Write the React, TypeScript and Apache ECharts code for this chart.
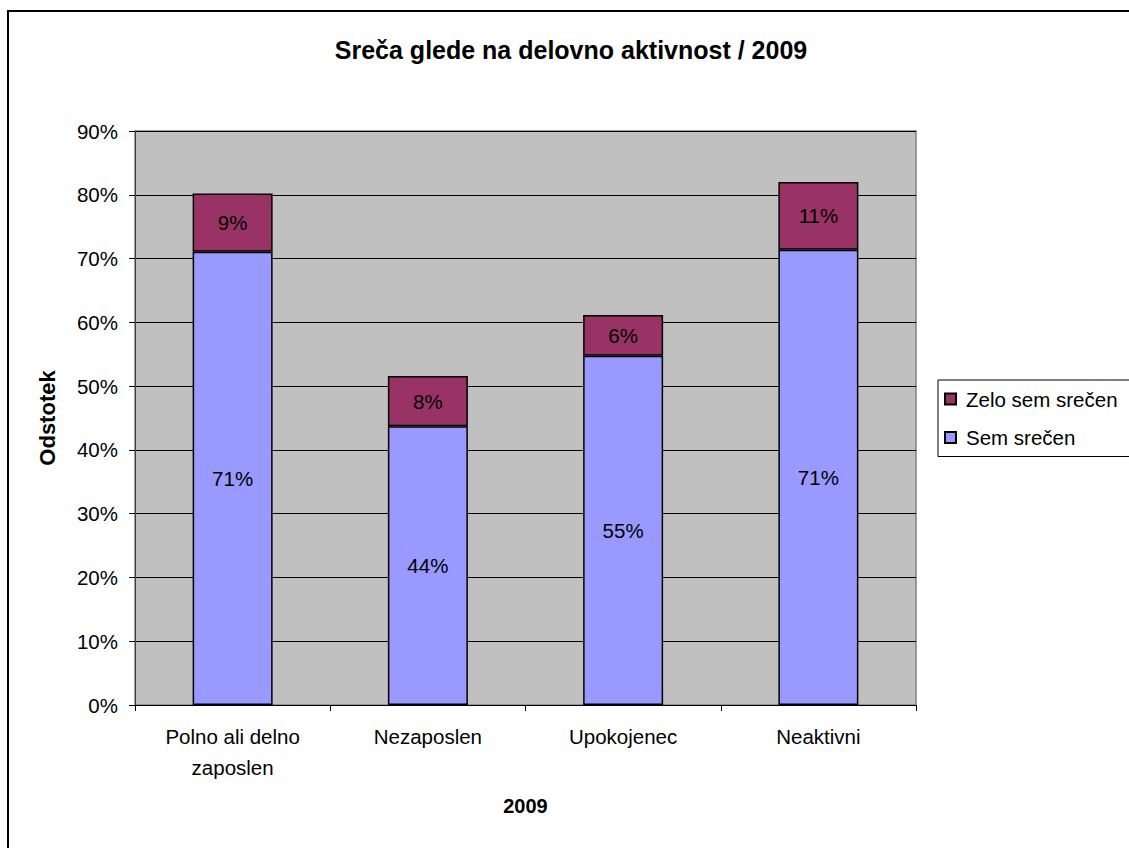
import React, { useEffect, useRef } from "react";
import * as echarts from "echarts";

const categories = ["Polno ali delno\nzaposlen", "Nezaposlen", "Upokojenec", "Neaktivni"];
const semSrecen = [71.05, 43.7, 54.75, 71.4];
const zeloSemSrecen = [9.15, 7.9, 6.4, 10.6];
const yTicks = { min: 0, max: 90, interval: 10 };

const FONT = "'Liberation Sans', Arial, sans-serif";
const FS = 20.5;

export default function App() {
  const ref = useRef<HTMLDivElement>(null);
  useEffect(() => {
    document.body.style.margin = "0";
    document.body.style.overflow = "hidden";
    const chart = echarts.init(ref.current!, null, { renderer: "svg" });
    const labelStyle = {
      show: true,
      position: "inside" as const,
      color: "#000",
      fontSize: FS,
      fontFamily: FONT,
      formatter: (p: any) => Math.round(p.value) + "%",
    };
    chart.setOption({
      animation: false,
      backgroundColor: "#fff",
      textStyle: { fontFamily: FONT },
      title: {
        text: "Sreča glede na delovno aktivnost / 2009",
        left: 566,
        top: 32,
        textAlign: "center",
        textStyle: { fontSize: 25, fontWeight: "bold", color: "#000", fontFamily: FONT },
      },
      graphic: [
        {
          type: "rect",
          shape: { x: 8, y: 11, width: 1300, height: 1000 },
          style: { fill: "none", stroke: "#000", lineWidth: 2 },
          silent: true,
          z: -10,
        },
      ],
      legend: {
        orient: "vertical",
        left: 938,
        top: 380,
        data: ["Zelo sem srečen", "Sem srečen"],
        itemWidth: 11,
        itemHeight: 11,
        itemGap: 17.5,
        icon: "rect",
        padding: [8.5, 16, 8.5, 6],
        borderColor: "#000",
        borderWidth: 1,
        backgroundColor: "#fff",
        textStyle: { fontSize: FS, color: "#000", fontFamily: FONT, padding: [0, 0, 0, 5] },
      },
      grid: {
        left: 135,
        top: 131,
        right: 213,
        bottom: 143,
        show: true,
        backgroundColor: "#C0C0C0",
        borderColor: "#808080",
        borderWidth: 1.5,
      },
      xAxis: {
        type: "category",
        data: categories,
        name: "2009",
        nameLocation: "middle",
        nameGap: 91,
        nameTextStyle: { fontSize: 20, fontWeight: "bold", color: "#000", fontFamily: FONT },
        axisLine: { lineStyle: { color: "#000", width: 1 } },
        axisTick: { show: true, length: 6, lineStyle: { color: "#000" } },
        axisLabel: { fontSize: FS, color: "#000", margin: 16, lineHeight: 31, fontFamily: FONT },
      },
      yAxis: {
        type: "value",
        min: yTicks.min,
        max: yTicks.max,
        interval: yTicks.interval,
        name: "Odstotek",
        nameLocation: "middle",
        nameGap: 77,
        nameTextStyle: { fontSize: 22, fontWeight: "bold", color: "#000", fontFamily: FONT },
        axisLine: { show: true, lineStyle: { color: "#404040", width: 1 } },
        axisTick: { show: true, length: 6, lineStyle: { color: "#000" } },
        axisLabel: { fontSize: FS, color: "#000", margin: 17, formatter: "{value}%", fontFamily: FONT },
        splitLine: { show: true, lineStyle: { color: "#000", width: 1 } },
      },
      series: [
        {
          name: "Sem srečen",
          type: "bar",
          stack: "a",
          data: semSrecen,
          barWidth: 80,
          itemStyle: { color: "#9999FF", borderColor: "#000", borderWidth: 1.5 },
          label: labelStyle,
        },
        {
          name: "Zelo sem srečen",
          type: "bar",
          stack: "a",
          data: zeloSemSrecen,
          barWidth: 80,
          itemStyle: { color: "#993366", borderColor: "#000", borderWidth: 1.5 },
          label: labelStyle,
        },
      ],
    });
    return () => chart.dispose();
  }, []);
  return <div ref={ref} style={{ width: 1129, height: 848 }} />;
}
